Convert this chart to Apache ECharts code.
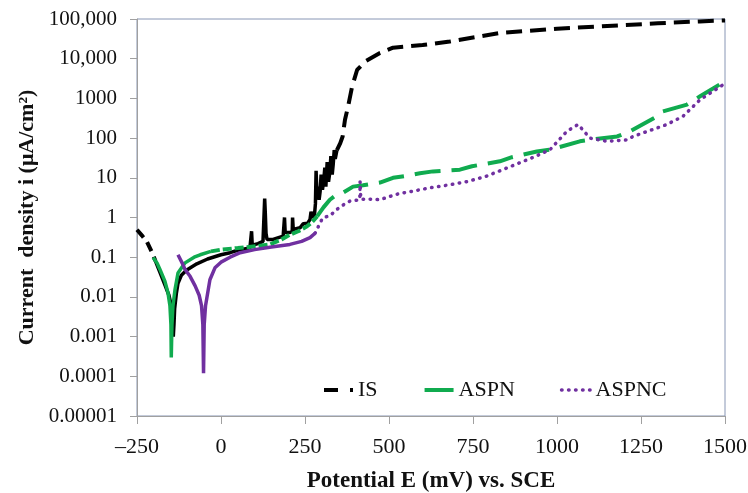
<!DOCTYPE html>
<html>
<head>
<meta charset="utf-8">
<script src="https://cdn.jsdelivr.net/npm/echarts@6/dist/echarts.min.js"></script>
<style>html,body{margin:0;padding:0;background:#fff}#c{width:748px;height:493px}</style>
</head>
<body>
<div id="c"></div>
<script>
// ---- data (E in mV, i in µA/cm²) ----
const xTickLabels = ['\u2013250','0','250','500','750','1000','1250','1500'];
const yTickLabels = ['0.00001','0.0001','0.001','0.01','0.1','1','10','100','1000','10,000','100,000'];
const seriesNames = ['IS','ASPN','ASPNC'];

// IS
const isCathodic = [[-250,0.49],[-235,0.35],[-221,0.25],[-205,0.13],[-195,0.08]];
const isCore = [[-195,0.08],[-182,0.042],[-167,0.02],[-155,0.011],[-148,0.006],[-144,0.0025],[-142,0.001],[-140,0.002],[-138,0.005],[-133,0.012],[-128,0.022],[-118,0.035],[-103,0.047],[-72,0.068],[-40,0.09],[0,0.115],[27,0.13],[50,0.15],[86,0.17],
  [91,0.19],[91,0.45],[93,0.2],[110,0.22],[125,0.25],[128,0.27],[130,3.0],[132,1.2],[134,0.4],[137,0.28],[155,0.28],
  [185,0.34],[188,0.36],[189,1.0],[191,0.42],[205,0.42],[212,0.45],[213,1.0],[215,0.5],[235,0.55],[245,0.7],[250,0.75],[258,0.72],[265,0.9],[268,1.4],[272,1.0],
  [278,1.1],[281,2.2],[283,15],[286,3],[289,6],[292,2.8],[295,4.5],[298,12],[302,5],[306,9],[309,18],[312,6],[316,25],[320,8],[324,14],[327,35],[331,12],[334,22],[337,50],[340,30],[345,50]];
const isUpper = [[345,50],[355,75],[362,110],[369,290],[378,615],[390,1950],[405,5200],[429,8500],[473,14000],[512,19000],[600,22000],[681,27000],[830,44500],[1000,57000],[1128,65000],[1300,78000],[1425,87000],[1500,92000]];

// ASPN
const aspnCore = [[-202,0.098],[-190,0.07],[-182,0.05],[-167,0.025],[-158,0.013],[-152,0.006],[-149,0.002],[-148,0.0003],[-146,0.002],[-143,0.006],[-137,0.015],[-128,0.04],[-107,0.072],[-80,0.1],[-62,0.115],[-30,0.14]];
const aspnMid = [[-30,0.14],[0,0.155],[50,0.17],[107,0.19],[146,0.21],[180,0.28],[205,0.37],[230,0.45],[256,0.6],[270,0.75],[286,1.07]];
const aspnUpper = [[286,1.07],[305,1.8],[324,2.8],[345,3.8],[363,4.2],[393,6],[423,6.5],[473,7.6],[512,10],[545,11],[592,13],[631,14.5],[711,16],[747,19.5],[830,26],[866,33],[940,46],[979,51],[1068,83],[1107,93],[1179,110],[1217,147],[1298,355],[1315,470],[1387,700],[1426,1130],[1500,2700]];

// ASPNC
const aspncCore = [[-128,0.115],[-115,0.07],[-107,0.049],[-92,0.033],[-77,0.019],[-65,0.011],[-58,0.006],[-54,0.002],[-52,0.00012],[-50,0.002],[-46,0.006],[-42,0.0095],[-33,0.027],[-18,0.054],[0,0.075],[27,0.1],[57,0.13],[100,0.155],[150,0.18],[205,0.21],[240,0.25],[265,0.31],[280,0.4]];
const aspncUpper = [[280,0.4],[286,0.5],[295,0.75],[304,1],[324,1.1],[345,1.6],[365,2.1],[384,2.6],[413,2.8],[414,8.1],[416,2.9],[440,2.9],[473,2.8],[520,3.8],[545,4.2],[571,4.6],[622,5.6],[682,6.7],[732,8],[790,11],[860,19],[930,33],[979,51],[1030,150],[1063,220],[1098,100],[1148,83],[1208,90],[1226,110],[1327,220],[1375,355],[1426,930],[1494,2200],[1500,2450]];

const FONT = "'Liberation Serif','Times New Roman',serif";
const BLACK = '#000000', GREEN = '#10ab4f', PURPLE = '#7030a0';

function line(name, data, color, width, type, cap) {
  return {
    name: name, type: 'line', data: data, showSymbol: false, symbol: 'none',
    animation: false, silent: true,
    lineStyle: { color: color, width: width, type: type, cap: cap || 'butt' },
    itemStyle: { color: color }
  };
}

const chart = echarts.init(document.getElementById('c'), null, { renderer: 'canvas' });
chart.setOption({
  backgroundColor: '#ffffff',
  animation: false,
  grid: { left: 137, right: 23, top: 19, bottom: 77, show: true, borderColor: '#8896b5', borderWidth: 1,
          containLabel: false, outerBoundsMode: 'none' },
  legend: {
    left: 322, top: 379, padding: 0, itemGap: 45, itemWidth: 29, itemHeight: 14,
    textStyle: { fontFamily: FONT, fontSize: 22, color: '#111' },
    data: [
      { name: seriesNames[0], itemStyle: { opacity: 0 }, lineStyle: { color: BLACK, width: 4, type: [14, 12] } },
      { name: seriesNames[1], itemStyle: { opacity: 0 }, lineStyle: { color: GREEN, width: 4, type: 'solid' } },
      { name: seriesNames[2], itemStyle: { opacity: 0 }, lineStyle: { color: PURPLE, width: 3.5, type: [0.5, 6.5], cap: 'round' } }
    ]
  },
  xAxis: {
    type: 'value', min: -250, max: 1500, interval: 250,
    name: 'Potential E (mV) vs. SCE', nameLocation: 'middle', nameGap: 54,
    nameTextStyle: { fontFamily: FONT, fontSize: 23, fontWeight: 'bold', color: '#111' },
    axisLine: { show: true, onZero: false, lineStyle: { color: '#a0a0a0', width: 1 } },
    axisTick: { show: true, inside: false, length: 8, lineStyle: { color: '#a0a0a0' } },
    splitLine: { show: false },
    axisLabel: {
      fontFamily: FONT, fontSize: 22, color: '#111', margin: 20,
      formatter: function (v) { return xTickLabels[Math.round((v + 250) / 250)]; }
    }
  },
  yAxis: {
    type: 'log', logBase: 10, min: 0.00001, max: 100000, interval: 1,
    name: 'Current  density i (\u03bcA/cm\u00b2)', nameLocation: 'middle', nameGap: 84, nameRotate: 90,
    nameTextStyle: { fontFamily: FONT, fontSize: 22, fontWeight: 'bold', color: '#111' },
    axisLine: { show: true, onZero: false, lineStyle: { color: '#a0a0a0', width: 1 } },
    axisTick: { show: true, inside: false, length: 7, lineStyle: { color: '#a0a0a0' } },
    splitLine: { show: false },
    axisLabel: {
      fontFamily: FONT, fontSize: 21, color: '#111', margin: 20,
      formatter: function (v) { return yTickLabels[Math.round(Math.log10(v)) + 5]; }
    }
  },
  series: [
    line('IS', isUpper, BLACK, 4, [16, 8]),
    line('IS', isCathodic, BLACK, 4, [10, 6]),
    line('IS', isCore, BLACK, 3.5, 'solid'),
    line('ASPN', aspnUpper, GREEN, 4, [26, 11]),
    line('ASPN', aspnMid, GREEN, 4, [9, 3]),
    line('ASPN', aspnCore, GREEN, 3.5, 'solid'),
    line('ASPNC', aspncUpper, PURPLE, 3.5, [0.5, 6.5], 'round'),
    line('ASPNC', aspncCore, PURPLE, 3.5, 'solid')
  ]
});
</script>
</body>
</html>
